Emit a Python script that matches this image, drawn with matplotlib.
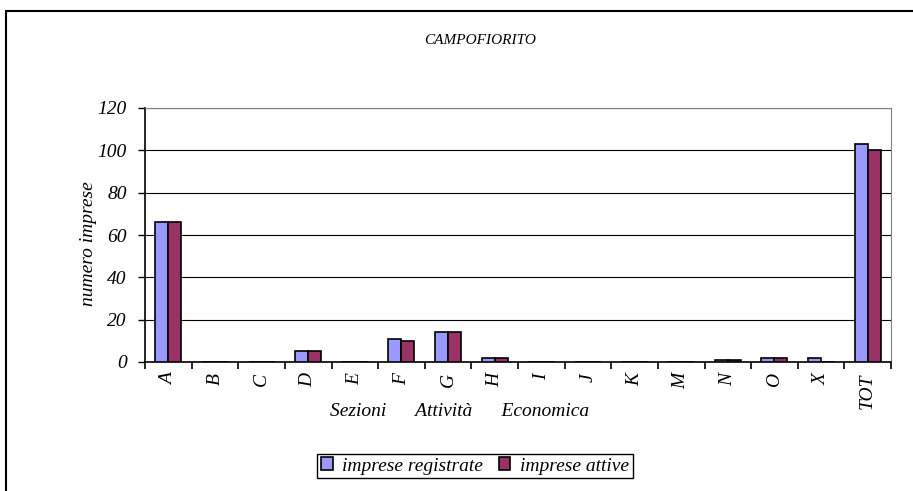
import numpy as np
import matplotlib
matplotlib.use('Agg')
import matplotlib.pyplot as plt
from matplotlib.patches import Rectangle

categories = ['A', 'B', 'C', 'D', 'E', 'F', 'G', 'H', 'I', 'J', 'K', 'M', 'N', 'O', 'X', 'TOT']
registrate = [66, 0, 0, 5, 0, 11, 14, 2, 0, 0, 0, 0, 1, 2, 2, 103]
attive = [66, 0, 0, 5, 0, 10, 14, 2, 0, 0, 0, 0, 1, 2, 0, 100]

plt.rcParams['font.family'] = 'Liberation Serif'
plt.rcParams['font.style'] = 'italic'

fig = plt.figure(figsize=(9.13, 4.91), dpi=100)
ax = fig.add_axes([145/913, 1-362/491, (891-145)/913, (362-108)/491])

x = np.arange(len(categories))
w = 0.28
ax.bar(x - w/2, registrate, w, color='#9999FF', edgecolor='black', linewidth=1.2, zorder=3)
ax.bar(x + w/2, attive, w, color='#993366', edgecolor='black', linewidth=1.2, zorder=3)

ax.set_xlim(-0.5, len(categories) - 0.5)
ax.set_ylim(0, 120)
ax.set_yticks(range(0, 121, 20))
ax.yaxis.grid(True, color='black', linewidth=0.8)
ax.set_axisbelow(True)

ax.set_xticks(x)
ax.set_xticklabels(categories, rotation=90, fontsize=14)
ax.set_xticks(np.arange(-0.5, len(categories), 1), minor=True)
ax.tick_params(axis='x', which='major', length=0, pad=8)
ax.tick_params(axis='x', which='minor', length=5, width=1.2, direction='out')
ax.tick_params(axis='y', length=5, width=1, direction='out', labelsize=14, pad=8)

for s in ['left', 'bottom']:
    ax.spines[s].set_linewidth(1.2)
ax.spines['top'].set_color('#808080')
ax.spines['right'].set_color('#808080')

ax.set_ylabel('numero imprese', fontsize=14, va='center')
ax.yaxis.set_label_coords(-0.0764, 0.468)

fig.text(480/913, 1-41/491, 'CAMPOFIORITO', ha='center', va='center', fontsize=11)
fig.text(460/913, 1-411/491, 'Sezioni      Attività      Economica', ha='center', va='center', fontsize=14)

leg = fig.legend(['imprese registrate', 'imprese attive'], loc='center',
                 bbox_to_anchor=(475/913, 1-466/491), ncol=2, fancybox=False,
                 edgecolor='black', fontsize=14, handlelength=0.6, handleheight=0.6,
                 handletextpad=0.5, columnspacing=0.8, borderpad=0.2, framealpha=1)
leg.get_frame().set_linewidth(1)

fig.patches.append(Rectangle((6/913, -0.05), 1.0, 1.05 - 11/491, transform=fig.transFigure,
                             fill=False, edgecolor='black', linewidth=1.5))

fig.savefig('out.png', dpi=100)
